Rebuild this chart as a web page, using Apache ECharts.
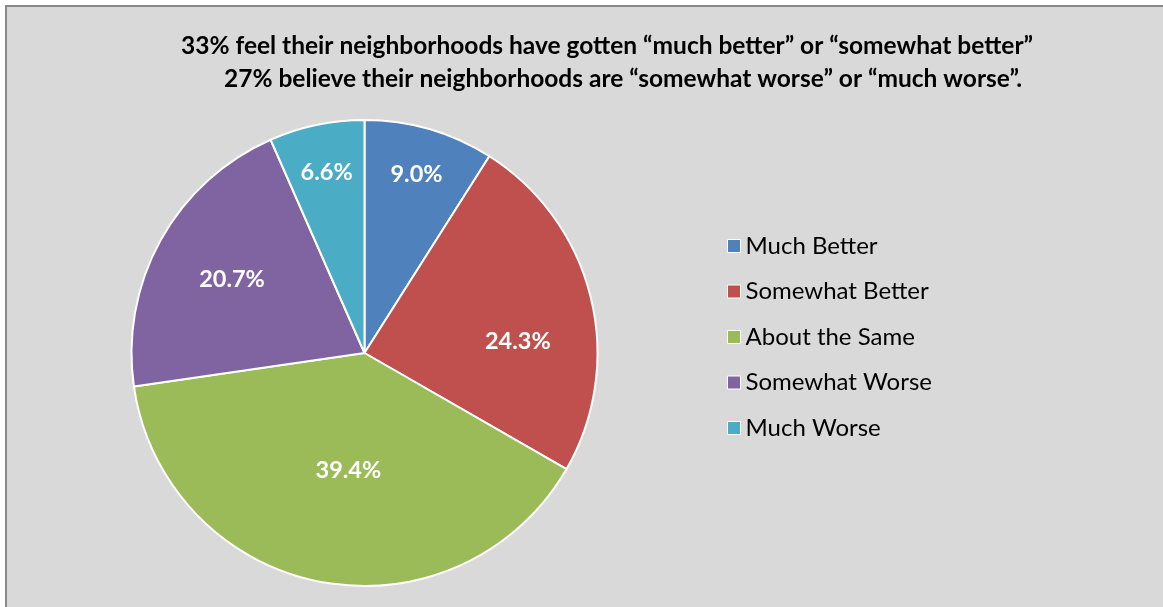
<!DOCTYPE html>
<html>
<head>
<meta charset="utf-8">
<script src="https://cdn.jsdelivr.net/npm/echarts@6/dist/echarts.min.js"></script>
<style>
html,body{margin:0;padding:0;background:#fff;}
#chart{width:1163px;height:607px;}
</style>
</head>
<body>
<div id="chart"></div>
<script>
const categories = ['Much Better', 'Somewhat Better', 'About the Same', 'Somewhat Worse', 'Much Worse'];
const values = [9.0, 24.3, 39.4, 20.7, 6.6];
const colors = ['#4F81BD', '#C0504D', '#9BBB59', '#8064A2', '#4BACC6'];
const titleLines = [
  '33% feel their neighborhoods have gotten \u201cmuch better\u201d or \u201csomewhat better\u201d',
  '27% believe their neighborhoods are \u201csomewhat worse\u201d or \u201cmuch worse\u201d.'
];

// label placement (Excel "best fit" look): radial fraction and angle shift in degrees
const labelRadial = [0.80, 0.66, 0.51, 0.65, 0.79];
const labelShift = [0, 9.4, -3, 0, 0];

const CX = 364.5, CY = 353, R = 233;
const FONT = 'Lato, "Open Sans", sans-serif';

const total = values.reduce((a, b) => a + b, 0);
const midAngles = [];
let acc = 0;
values.forEach(v => { midAngles.push((acc + v / 2) / total * 360); acc += v; });

const titleStyle = {fontFamily: FONT, fontWeight: 'bold', fontSize: 24.5, color: '#000'};

const chart = echarts.init(document.getElementById('chart'), null, {renderer: 'canvas'});
chart.setOption({
  backgroundColor: '#ffffff',
  animation: false,
  color: colors,
  graphic: [{
    type: 'rect',
    z: -10,
    silent: true,
    shape: {x: 6, y: 6, width: 1200, height: 700},
    style: {fill: '#d9d9d9', stroke: '#898989', lineWidth: 2}
  }],
  title: [{
    text: titleLines[0],
    left: 602,
    top: 29,
    textAlign: 'center',
    textStyle: titleStyle
  }, {
    text: titleLines[1],
    left: 618,
    top: 62,
    textAlign: 'center',
    textStyle: titleStyle
  }],
  legend: {
    orient: 'vertical',
    left: 722,
    top: 229,
    icon: 'rect',
    itemWidth: 13,
    itemHeight: 13,
    itemGap: 21.5,
    itemStyle: {borderColor: '#ffffff', borderWidth: 1},
    textStyle: {fontFamily: FONT, fontSize: 24, color: '#000', lineHeight: 24},
    data: categories
  },
  series: [{
    type: 'pie',
    center: [CX, CY],
    radius: [0, R],
    startAngle: 90,
    clockwise: true,
    avoidLabelOverlap: false,
    itemStyle: {borderColor: '#ffffff', borderWidth: 2},
    label: {
      show: true,
      position: 'inside',
      formatter: p => p.value.toFixed(1) + '%',
      color: '#ffffff',
      fontFamily: FONT,
      fontWeight: 'bold',
      fontSize: 23.5
    },
    labelLine: {show: false},
    emphasis: {disabled: true},
    labelLayout: function (params) {
      const i = params.dataIndex;
      const a = (midAngles[i] + labelShift[i]) * Math.PI / 180;
      const rr = labelRadial[i] * R;
      return {
        x: CX + rr * Math.sin(a),
        y: CY - rr * Math.cos(a),
        align: 'center',
        verticalAlign: 'middle'
      };
    },
    data: categories.map((c, i) => ({name: c, value: values[i]}))
  }]
});
</script>
</body>
</html>
